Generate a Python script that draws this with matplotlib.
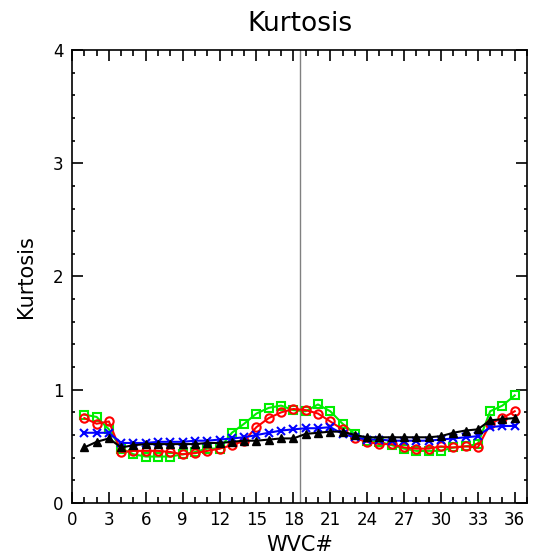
import numpy as np
import matplotlib
matplotlib.use('Agg')
import matplotlib.pyplot as plt
from matplotlib.ticker import MultipleLocator

wvc = np.arange(1, 37)

green = [0.78, 0.76, 0.65, 0.48, 0.43, 0.41, 0.41, 0.41, 0.43, 0.45, 0.48, 0.48,
         0.62, 0.70, 0.79, 0.84, 0.86, 0.82, 0.81, 0.87, 0.81, 0.70, 0.61, 0.55,
         0.54, 0.51, 0.48, 0.46, 0.46, 0.46, 0.49, 0.50, 0.52, 0.81, 0.86, 0.95]
red = [0.75, 0.70, 0.72, 0.45, 0.46, 0.46, 0.46, 0.45, 0.43, 0.44, 0.46, 0.48,
       0.51, 0.55, 0.67, 0.75, 0.80, 0.83, 0.82, 0.79, 0.72, 0.65, 0.57, 0.54,
       0.52, 0.52, 0.49, 0.48, 0.48, 0.50, 0.49, 0.50, 0.49, 0.70, 0.75, 0.81]
blue = [0.62, 0.62, 0.62, 0.53, 0.53, 0.53, 0.54, 0.54, 0.54, 0.55, 0.55, 0.56,
        0.57, 0.58, 0.60, 0.62, 0.64, 0.65, 0.66, 0.66, 0.67, 0.61, 0.58, 0.56,
        0.56, 0.55, 0.55, 0.55, 0.55, 0.56, 0.57, 0.58, 0.59, 0.67, 0.68, 0.68]
black = [0.49, 0.54, 0.57, 0.49, 0.51, 0.52, 0.52, 0.52, 0.52, 0.52, 0.53, 0.53,
         0.54, 0.55, 0.55, 0.56, 0.57, 0.57, 0.61, 0.62, 0.63, 0.63, 0.60, 0.58,
         0.58, 0.58, 0.58, 0.58, 0.58, 0.59, 0.62, 0.64, 0.65, 0.73, 0.74, 0.75]

fig = plt.figure(figsize=(5.33, 5.58), dpi=100)
ax = fig.add_axes([0.1351, 0.0986, 0.8537, 0.8118])

ax.axvline(18.5, color='gray', lw=1)

ax.plot(wvc, green, color='#00ee00', lw=1.5, marker='s', ms=5.5, mfc='none', mew=1.5)
ax.plot(wvc, red, color='red', lw=1.5, marker='o', ms=6, mfc='none', mew=1.5)
ax.plot(wvc, blue, color='blue', lw=1.5, marker='x', ms=5.5, mew=1.5)
ax.plot(wvc, black, color='black', lw=1.5, marker='^', ms=6)

ax.set_xlim(0, 37)
ax.set_ylim(0, 4)
ax.xaxis.set_major_locator(MultipleLocator(3))
ax.xaxis.set_minor_locator(MultipleLocator(1))
ax.yaxis.set_major_locator(MultipleLocator(1))
ax.yaxis.set_minor_locator(MultipleLocator(0.2))
ax.tick_params(which='both', direction='in', top=True, right=True, width=1.2)
ax.tick_params(which='major', length=8, labelsize=12, pad=6)
ax.tick_params(axis='x', which='minor', length=4)
ax.tick_params(axis='y', which='minor', length=2.5)
for s in ax.spines.values():
    s.set_linewidth(1.2)

ax.set_title('Kurtosis', fontsize=19, pad=14)
ax.set_xlabel('WVC#', fontsize=15, labelpad=4)
ax.set_ylabel('Kurtosis', fontsize=15, labelpad=12)

fig.savefig('out.png')
